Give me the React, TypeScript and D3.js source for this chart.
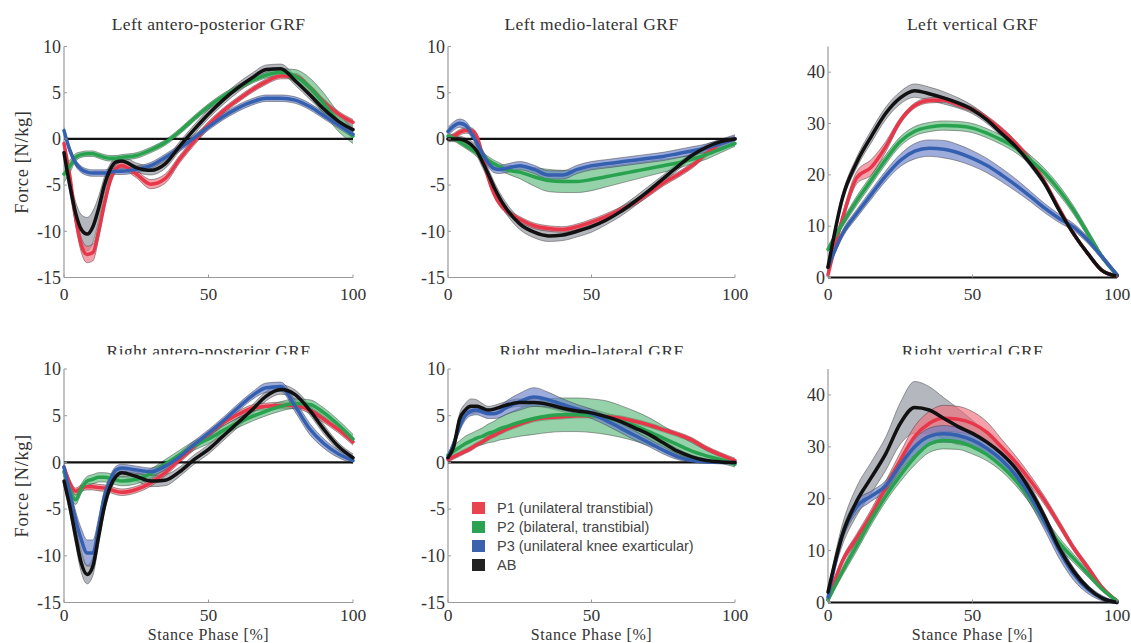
import React from "react";
import * as d3 from "d3";

// ---------- data ----------
const X_FINE = [0, 2, 4, 6, 8, 10, 12, 14, 16, 18, 20, 25, 30, 35, 40, 45, 50, 55, 60, 65, 70, 75, 80, 85, 90, 95, 100];
const X_COARSE = [0, 5, 10, 15, 20, 25, 30, 35, 40, 45, 50, 55, 60, 65, 70, 75, 80, 85, 90, 95, 100];

const SERIES = ["P1 (unilateral transtibial)", "P2 (bilateral, transtibial)", "P3 (unilateral knee exarticular)", "AB"];
const TICKS_HORIZ = [-15, -10, -5, 0, 5, 10];
const TICKS_VERT = [0, 10, 20, 30, 40];
const TICKS_X = [0, 50, 100];

// Left antero-posterior
const LAP_P1 = [-0.5, -4.0, -8.5, -11.5, -12.5, -12.3, -10.0, -7.0, -4.5, -3.2, -2.9, -3.8, -4.9, -4.3, -2.2, -0.3, 1.5, 3.0, 4.2, 5.3, 6.2, 6.8, 6.8, 5.6, 4.0, 2.7, 1.8];
const LAP_P1_SD = [0.3, 0.5, 0.7, 0.8, 0.9, 0.9, 0.8, 0.6, 0.5, 0.4, 0.4, 0.4, 0.5, 0.5, 0.4, 0.4, 0.4, 0.3, 0.3, 0.3, 0.3, 0.3, 0.3, 0.3, 0.3, 0.3, 0.3];
const LAP_P2 = [-3.8, -3.0, -2.0, -1.7, -1.6, -1.6, -1.8, -2.0, -2.1, -2.1, -2.0, -1.8, -1.2, -0.4, 0.8, 2.2, 3.5, 4.6, 5.5, 6.3, 6.9, 7.2, 6.8, 5.6, 3.8, 1.8, 0.3];
const LAP_P2_SD = [0.9, 0.7, 0.4, 0.3, 0.3, 0.3, 0.3, 0.3, 0.3, 0.3, 0.3, 0.3, 0.3, 0.3, 0.3, 0.3, 0.3, 0.3, 0.3, 0.3, 0.3, 0.4, 0.7, 1.0, 1.1, 1.0, 0.8];
const LAP_P3 = [0.9, -1.2, -2.6, -3.3, -3.6, -3.7, -3.7, -3.7, -3.6, -3.5, -3.5, -3.3, -2.9, -2.0, -1.0, 0.1, 1.3, 2.4, 3.3, 4.0, 4.4, 4.4, 4.2, 3.5, 2.5, 1.5, 0.5];
const LAP_P3_SD = [0.35, 0.35, 0.35, 0.35, 0.35, 0.35, 0.35, 0.35, 0.35, 0.35, 0.35, 0.35, 0.35, 0.35, 0.35, 0.35, 0.35, 0.35, 0.35, 0.35, 0.35, 0.35, 0.35, 0.35, 0.35, 0.35, 0.35];
const LAP_AB = [-1.5, -5.0, -8.0, -9.8, -10.3, -9.5, -7.5, -5.0, -3.3, -2.5, -2.4, -3.1, -3.4, -2.7, -0.8, 1.0, 2.7, 4.2, 5.5, 6.6, 7.5, 7.6, 6.3, 4.8, 3.2, 1.9, 1.0];
const LAP_AB_SD = [0.5, 0.8, 1.2, 1.6, 1.8, 1.7, 1.3, 0.9, 0.6, 0.5, 0.5, 0.5, 0.5, 0.5, 0.5, 0.5, 0.5, 0.5, 0.5, 0.5, 0.5, 0.5, 0.5, 0.5, 0.4, 0.4, 0.4];

// Left medio-lateral
const LML_P1 = [0, 0.3, 0.7, 0.9, 0.9, 0.3, -1.8, -4.2, -5.9, -7.0, -7.7, -8.7, -9.4, -9.7, -9.8, -9.5, -9.0, -8.4, -7.7, -6.9, -5.9, -4.8, -3.9, -2.9, -1.6, -0.5, 0];
const LML_P1_SD = [0.3, 0.3, 0.3, 0.3, 0.3, 0.3, 0.3, 0.3, 0.3, 0.3, 0.3, 0.3, 0.3, 0.3, 0.3, 0.3, 0.3, 0.3, 0.3, 0.3, 0.3, 0.3, 0.3, 0.3, 0.3, 0.3, 0.3];
const LML_P2 = [0.3, 0.1, -0.3, -0.7, -1.1, -1.5, -1.9, -2.3, -2.7, -3.0, -3.3, -3.6, -4.1, -4.5, -4.6, -4.6, -4.4, -4.1, -3.8, -3.5, -3.2, -2.9, -2.6, -2.2, -1.7, -1.1, -0.5];
const LML_P2_SD = [0.3, 0.3, 0.3, 0.3, 0.3, 0.4, 0.4, 0.4, 0.4, 0.4, 0.4, 0.7, 1.0, 1.2, 1.2, 1.2, 1.2, 1.1, 1.0, 0.9, 0.8, 0.7, 0.6, 0.5, 0.5, 0.4, 0.3];
const LML_P3 = [0.8, 1.4, 1.7, 1.5, 0.7, -0.4, -1.6, -2.6, -3.2, -3.3, -3.2, -2.9, -3.3, -3.9, -3.9, -3.3, -2.9, -2.7, -2.5, -2.3, -2.1, -1.9, -1.6, -1.3, -1.0, -0.5, 0];
const LML_P3_SD = [0.45, 0.45, 0.45, 0.45, 0.45, 0.45, 0.45, 0.45, 0.45, 0.45, 0.45, 0.45, 0.45, 0.45, 0.45, 0.45, 0.45, 0.45, 0.45, 0.45, 0.45, 0.45, 0.45, 0.45, 0.45, 0.45, 0.45];
const LML_AB = [0, 0, 0, -0.2, -0.6, -1.3, -2.5, -3.8, -5.2, -6.4, -7.4, -9.2, -10.1, -10.5, -10.4, -10.0, -9.5, -8.8, -7.9, -6.8, -5.6, -4.3, -3.0, -1.8, -0.9, -0.3, 0];
const LML_AB_SD = [0.3, 0.3, 0.3, 0.3, 0.4, 0.5, 0.6, 0.6, 0.6, 0.6, 0.6, 0.6, 0.6, 0.6, 0.6, 0.6, 0.6, 0.5, 0.5, 0.5, 0.5, 0.4, 0.4, 0.3, 0.3, 0.2, 0.2];

// Left vertical
const LV_P1 = [0.5, 11.5, 19.5, 21.5, 25.5, 30.5, 33.5, 34.5, 34.6, 33.7, 32.7, 31.0, 28.8, 26.1, 22.9, 18.6, 13.4, 8.5, 4.6, 1.3, 0.3];
const LV_P1_SD = [0.3, 0.8, 1.2, 1.5, 1.0, 0.6, 0.5, 0.5, 0.5, 0.5, 0.5, 0.5, 0.5, 0.5, 0.5, 0.5, 0.4, 0.4, 0.3, 0.3, 0.3];
const LV_P2 = [5.5, 10.5, 15.0, 19.0, 23.0, 26.5, 28.5, 29.3, 29.6, 29.5, 29.1, 28.1, 26.8, 25.2, 22.9, 20.3, 17.0, 13.1, 8.5, 3.9, 0.5];
const LV_P2_SD = [0.5, 0.7, 0.9, 0.9, 0.9, 0.9, 0.9, 0.9, 0.9, 0.9, 0.9, 0.9, 0.9, 0.9, 0.9, 0.9, 0.9, 0.8, 0.7, 0.5, 0.4];
const LV_P3 = [2, 8.5, 12.5, 16.2, 19.8, 22.8, 24.6, 25.2, 25.0, 24.3, 23.2, 21.8, 20.0, 18.0, 15.8, 13.5, 11.5, 9.8, 7.2, 3.9, 0.5];
const LV_P3_SD = [0.5, 0.7, 0.8, 0.9, 1.0, 1.2, 1.5, 1.6, 1.7, 1.6, 1.5, 1.4, 1.3, 1.2, 1.0, 0.9, 0.8, 0.7, 0.6, 0.5, 0.4];
const LV_AB = [2, 15.5, 22.5, 27.5, 32.0, 35.0, 36.4, 35.8, 35.0, 34.0, 32.7, 30.7, 28.1, 25.5, 22.2, 18.3, 13.1, 8.5, 4.6, 1.3, 0.3];
const LV_AB_SD = [0.5, 0.8, 1.0, 1.2, 1.2, 1.2, 1.3, 1.3, 1.2, 1.0, 0.8, 0.7, 0.6, 0.6, 0.6, 0.6, 0.5, 0.5, 0.4, 0.3, 0.3];

// Right antero-posterior
const RAP_P1 = [-0.5, -2.2, -3.1, -2.75, -2.6, -2.6, -2.7, -2.75, -2.9, -3.1, -3.2, -2.9, -2.2, -1.1, 0.3, 1.7, 3.0, 4.2, 5.1, 5.8, 6.0, 6.1, 6.1, 5.6, 4.6, 3.5, 2.2];
const RAP_P1_SD = [0.35, 0.35, 0.35, 0.35, 0.35, 0.35, 0.35, 0.35, 0.35, 0.35, 0.35, 0.35, 0.35, 0.35, 0.35, 0.35, 0.35, 0.35, 0.35, 0.35, 0.35, 0.35, 0.35, 0.35, 0.35, 0.35, 0.35];
const RAP_P2 = [-1.0, -2.9, -4.0, -2.8, -2.0, -1.8, -1.6, -1.6, -1.7, -1.9, -2.0, -1.8, -1.2, -0.2, 0.8, 1.8, 2.5, 3.4, 4.2, 4.9, 5.5, 6.0, 6.3, 6.2, 5.3, 4.0, 2.5];
const RAP_P2_SD = [0.5, 0.5, 0.5, 0.5, 0.5, 0.5, 0.5, 0.5, 0.5, 0.5, 0.5, 0.5, 0.5, 0.5, 0.5, 0.5, 0.5, 0.5, 0.5, 0.5, 0.5, 0.5, 0.5, 0.5, 0.5, 0.5, 0.5];
const RAP_P3 = [-0.5, -3.3, -6.1, -8.3, -9.7, -9.7, -6.9, -3.6, -1.9, -0.8, -0.6, -0.8, -1.0, -0.4, 0.6, 1.9, 3.1, 4.4, 5.8, 7.1, 8.0, 8.1, 6.0, 3.6, 2.0, 0.9, 0.2];
const RAP_P3_SD = [0.3, 0.6, 0.9, 1.2, 1.4, 1.4, 1.0, 0.6, 0.5, 0.4, 0.4, 0.4, 0.4, 0.4, 0.4, 0.4, 0.4, 0.4, 0.4, 0.4, 0.5, 0.5, 0.6, 0.6, 0.5, 0.4, 0.3];
const RAP_AB = [-2.0, -4.7, -7.9, -10.8, -12.0, -11.1, -7.9, -4.7, -2.6, -1.5, -1.1, -1.5, -2.0, -1.9, -1.0, 0.3, 1.4, 2.8, 4.2, 5.6, 7.1, 7.8, 7.25, 5.6, 3.5, 1.7, 0.5];
const RAP_AB_SD = [0.5, 0.7, 0.9, 1.0, 1.0, 1.0, 0.8, 0.6, 0.5, 0.5, 0.5, 0.5, 0.6, 0.6, 0.5, 0.5, 0.5, 0.5, 0.5, 0.5, 0.5, 0.5, 0.5, 0.5, 0.5, 0.4, 0.4];

// Right medio-lateral
const RML_P1 = [0.3, 0.6, 0.9, 1.2, 1.5, 1.9, 2.2, 2.6, 2.9, 3.2, 3.5, 4.1, 4.6, 4.8, 4.9, 5.0, 5.0, 4.9, 4.75, 4.4, 4.0, 3.5, 3.0, 2.4, 1.5, 0.8, 0.2];
const RML_P1_SD = [0.25, 0.25, 0.25, 0.25, 0.25, 0.25, 0.25, 0.25, 0.25, 0.25, 0.25, 0.25, 0.25, 0.25, 0.25, 0.25, 0.25, 0.25, 0.25, 0.25, 0.25, 0.25, 0.25, 0.25, 0.25, 0.25, 0.25];
const RML_P2 = [0.8, 1.2, 1.6, 2.0, 2.3, 2.6, 2.8, 3.1, 3.3, 3.6, 3.8, 4.3, 4.7, 5.0, 5.1, 5.1, 5.0, 4.8, 4.4, 3.9, 3.3, 2.6, 1.9, 1.2, 0.7, 0.3, -0.2];
const RML_P2_SD = [0.3, 0.6, 0.7, 0.8, 0.8, 0.8, 0.9, 1.0, 1.1, 1.2, 1.3, 1.5, 1.7, 1.8, 1.8, 1.8, 1.8, 1.8, 1.7, 1.6, 1.5, 1.3, 1.1, 0.9, 0.6, 0.4, 0.3];
const RML_P3 = [0.5, 2.0, 3.8, 5.0, 5.5, 5.6, 5.4, 5.2, 5.2, 5.4, 5.8, 6.5, 7.0, 6.7, 6.2, 5.7, 5.2, 4.5, 3.7, 2.9, 2.1, 1.3, 0.6, 0.2, 0.05, 0, 0];
const RML_P3_SD = [0.3, 0.4, 0.5, 0.5, 0.5, 0.5, 0.5, 0.5, 0.5, 0.6, 0.7, 0.9, 1.0, 0.8, 0.6, 0.5, 0.5, 0.5, 0.5, 0.5, 0.4, 0.4, 0.3, 0.2, 0.1, 0.1, 0.1];
const RML_AB = [0.5, 1.7, 4.6, 5.6, 6.0, 6.0, 5.8, 5.6, 5.7, 5.9, 6.1, 6.4, 6.4, 6.2, 5.8, 5.5, 5.3, 4.9, 4.4, 3.7, 3.0, 2.1, 1.2, 0.6, 0.2, 0.05, 0];
const RML_AB_SD = [0.3, 0.4, 0.6, 0.7, 0.8, 0.7, 0.5, 0.4, 0.4, 0.4, 0.4, 0.4, 0.4, 0.4, 0.4, 0.4, 0.4, 0.4, 0.4, 0.4, 0.4, 0.3, 0.3, 0.2, 0.2, 0.1, 0.1];

// Right vertical
const RV_P1 = [0.5, 8.0, 12.5, 17.0, 22.2, 27.4, 32.0, 34.5, 35.5, 35.3, 34.5, 32.8, 30.0, 27.0, 23.5, 19.6, 15.1, 10.5, 6.7, 2.8, 0.3];
const RV_P1_SD = [0.3, 0.6, 0.8, 1.0, 1.2, 1.5, 2.0, 2.3, 2.5, 2.5, 2.3, 2.0, 1.5, 1.2, 1.0, 0.8, 0.7, 0.6, 0.5, 0.4, 0.3];
const RV_P2 = [0.5, 6.0, 11.0, 16.0, 20.5, 24.5, 28.0, 30.5, 31.2, 31.0, 30.0, 28.5, 26.3, 23.5, 20.0, 15.5, 11.5, 8.5, 5.5, 2.5, 0.3];
const RV_P2_SD = [0.3, 0.8, 1.0, 1.0, 1.0, 1.2, 1.5, 1.6, 1.6, 1.5, 1.4, 1.2, 1.0, 1.0, 1.0, 1.0, 1.0, 0.8, 0.6, 0.4, 0.3];
const RV_P3 = [1.0, 13.0, 18.5, 20.5, 22.5, 26.5, 30.0, 32.0, 32.5, 32.2, 31.3, 29.7, 27.5, 24.5, 20.5, 15.5, 10.0, 5.5, 2.5, 0.8, 0];
const RV_P3_SD = [0.3, 1.0, 1.2, 1.0, 1.0, 1.2, 1.5, 1.6, 1.6, 1.5, 1.4, 1.3, 1.2, 1.3, 1.5, 1.6, 1.5, 1.2, 0.8, 0.5, 0.2];
const RV_AB = [2.0, 13.1, 19.6, 24.1, 28.7, 34.5, 37.6, 37.1, 35.5, 33.9, 32.6, 30.9, 28.7, 25.8, 21.6, 16.4, 10.5, 6.0, 2.8, 0.8, 0];
const RV_AB_SD = [0.5, 2.0, 2.8, 3.0, 3.2, 4.0, 5.0, 4.5, 4.0, 3.5, 2.5, 1.8, 1.5, 1.2, 1.0, 0.8, 0.7, 0.6, 0.5, 0.3, 0.2];

// ---------- styling ----------
const LINE_COLORS = ["#e8374a", "#28a24f", "#3560b0", "#111111"];
const SWATCH_COLORS = ["#e8434f", "#2ba352", "#3b63ad", "#222222"];
const BAND_COLORS = ["#ef6f7b", "#5cba7b", "#6a80c8", "#a3a5ae"];
const BAND_OPACITY = [0.65, 0.65, 0.65, 0.8];
const SERIF = "'Liberation Serif', 'Times New Roman', serif";
const SANS = "'Liberation Sans', Arial, sans-serif";
const AXIS_COLOR = "#9a9a9a";

type PanelDef = {
  title: string;
  xs: number[];
  means: number[][];
  sds: number[][];
  vertical: boolean;
  col: number;
  row: number;
};

const PANELS: PanelDef[] = [
  { title: "Left antero-posterior GRF", xs: X_FINE, means: [LAP_P1, LAP_P2, LAP_P3, LAP_AB], sds: [LAP_P1_SD, LAP_P2_SD, LAP_P3_SD, LAP_AB_SD], vertical: false, col: 0, row: 0 },
  { title: "Left medio-lateral GRF", xs: X_FINE, means: [LML_P1, LML_P2, LML_P3, LML_AB], sds: [LML_P1_SD, LML_P2_SD, LML_P3_SD, LML_AB_SD], vertical: false, col: 1, row: 0 },
  { title: "Left vertical GRF", xs: X_COARSE, means: [LV_P1, LV_P2, LV_P3, LV_AB], sds: [LV_P1_SD, LV_P2_SD, LV_P3_SD, LV_AB_SD], vertical: true, col: 2, row: 0 },
  { title: "Right antero-posterior GRF", xs: X_FINE, means: [RAP_P1, RAP_P2, RAP_P3, RAP_AB], sds: [RAP_P1_SD, RAP_P2_SD, RAP_P3_SD, RAP_AB_SD], vertical: false, col: 0, row: 1 },
  { title: "Right medio-lateral GRF", xs: X_FINE, means: [RML_P1, RML_P2, RML_P3, RML_AB], sds: [RML_P1_SD, RML_P2_SD, RML_P3_SD, RML_AB_SD], vertical: false, col: 1, row: 1 },
  { title: "Right vertical GRF", xs: X_COARSE, means: [RV_P1, RV_P2, RV_P3, RV_AB], sds: [RV_P1_SD, RV_P2_SD, RV_P3_SD, RV_AB_SD], vertical: true, col: 2, row: 1 },
];

const COLS = [
  [64, 353],
  [448, 735],
  [828, 1117],
];
const ROWS = [
  [46.5, 277.5],
  [369, 602.5],
];

function Panel({ p }: { p: PanelDef }) {
  const [x0, x1] = COLS[p.col];
  const [top, bottom] = ROWS[p.row];
  const x = d3.scaleLinear().domain([0, 100]).range([x0, x1]);
  const y = d3.scaleLinear().domain(p.vertical ? [0, 45] : [-15, 10]).range([bottom, top]);
  const yTicks = p.vertical ? TICKS_VERT : TICKS_HORIZ;
  const curve = d3.curveMonotoneX;

  const bands = p.means.map((m, s) => {
    const pts = p.xs.map((xv, i) => ({ x: xv, lo: m[i] - p.sds[s][i], hi: m[i] + p.sds[s][i] }));
    const area = d3.area<any>().x((d) => x(d.x)).y0((d) => y(d.lo)).y1((d) => y(d.hi)).curve(curve);
    const lo = d3.line<any>().x((d) => x(d.x)).y((d) => y(d.lo)).curve(curve);
    const hi = d3.line<any>().x((d) => x(d.x)).y((d) => y(d.hi)).curve(curve);
    return { area: area(pts) || "", lo: lo(pts) || "", hi: hi(pts) || "" };
  });
  const lines = p.means.map((m) => {
    const pts = p.xs.map((xv, i) => [xv, m[i]] as [number, number]);
    return d3.line<[number, number]>().x((d) => x(d[0])).y((d) => y(d[1])).curve(curve)(pts) || "";
  });
  const bandOrder = [3, 0, 1, 2];
  const lineOrder = [0, 1, 2, 3];
  const titleY = p.row === 0 ? 30 : 357;
  const xLabelDy = p.row === 0 ? 22 : 18;

  return (
    <g>
      {bandOrder.map((s) => (
        <g key={"b" + s}>
          <path d={bands[s].area} fill={BAND_COLORS[s]} fillOpacity={BAND_OPACITY[s]} stroke="none" />
          <path d={bands[s].lo} fill="none" stroke="#3a3a3a" strokeWidth={0.6} strokeOpacity={0.8} />
          <path d={bands[s].hi} fill="none" stroke="#3a3a3a" strokeWidth={0.6} strokeOpacity={0.8} />
        </g>
      ))}
      {/* axes */}
      <line x1={x0} x2={x0} y1={top} y2={bottom} stroke={AXIS_COLOR} strokeWidth={1.2} />
      <line x1={x0} x2={x1} y1={bottom} y2={bottom} stroke={AXIS_COLOR} strokeWidth={1.2} />
      <line x1={x(0)} x2={x(100)} y1={y(0)} y2={y(0)} stroke="#111" strokeWidth={2.2} />
      {lineOrder.map((s) => (
        <path key={"l" + s} d={lines[s]} fill="none" stroke={LINE_COLORS[s]} strokeWidth={3.5} strokeLinejoin="round" strokeLinecap="round" />
      ))}
      {yTicks.map((t) => (
        <g key={"yt" + t}>
          <line x1={x0} x2={x0 + 3} y1={y(t)} y2={y(t)} stroke={AXIS_COLOR} strokeWidth={1} />
          <text x={x0 - 3} y={y(t)} dy="0.35em" textAnchor="end" fontFamily={SERIF} fontSize={18} fill="#333">
            {t}
          </text>
        </g>
      ))}
      {TICKS_X.map((t) => (
        <g key={"xt" + t}>
          <line x1={x(t)} x2={x(t)} y1={bottom} y2={bottom - 3} stroke={AXIS_COLOR} strokeWidth={1} />
          <text x={x(t)} y={bottom + xLabelDy} textAnchor="middle" fontFamily={SERIF} fontSize={17.5} fill="#333">
            {t}
          </text>
        </g>
      ))}
      <g clipPath={p.row === 1 ? "url(#titleclip)" : undefined}>
        <text x={(x0 + x1) / 2} y={titleY} textAnchor="middle" fontFamily={SERIF} fontSize={17.5} letterSpacing={0.4} fill="#333">
          {p.title}
        </text>
      </g>
      {p.col === 0 && (
        <text
          transform={`translate(28, ${(top + bottom) / 2}) rotate(-90)`}
          textAnchor="middle"
          fontFamily={SERIF}
          fontSize={18.5}
          letterSpacing={0.6}
          fill="#333"
        >
          Force [N/kg]
        </text>
      )}
      {p.row === 1 && (
        <text x={(x0 + x1) / 2} y={639.5} textAnchor="middle" fontFamily={SERIF} fontSize={16} letterSpacing={0.6} fill="#333">
          Stance Phase [%]
        </text>
      )}
    </g>
  );
}

function Legend() {
  const lx = 472;
  const ly = 502;
  const step = 19;
  return (
    <g>
      {SERIES.map((name, i) => (
        <g key={name}>
          <rect x={lx} y={ly + i * step} width={13} height={12} fill={SWATCH_COLORS[i]} />
          <text x={lx + 25} y={ly + i * step + 6} dy="0.35em" fontFamily={SANS} fontSize={14.5} fill="#444">
            {name}
          </text>
        </g>
      ))}
    </g>
  );
}

export default function App() {
  return (
    <svg
      width={1131}
      height={643}
      viewBox="0 0 1131 643"
      style={{ position: "absolute", left: 0, top: 0, background: "#fff", display: "block" }}
    >
      <defs>
        <clipPath id="titleclip">
          <rect x={0} y={330} width={1131} height={24.5} />
        </clipPath>
      </defs>
      <rect x={0} y={0} width={1131} height={643} fill="#fff" />
      {PANELS.map((p) => (
        <Panel key={p.title} p={p} />
      ))}
      <Legend />
    </svg>
  );
}
